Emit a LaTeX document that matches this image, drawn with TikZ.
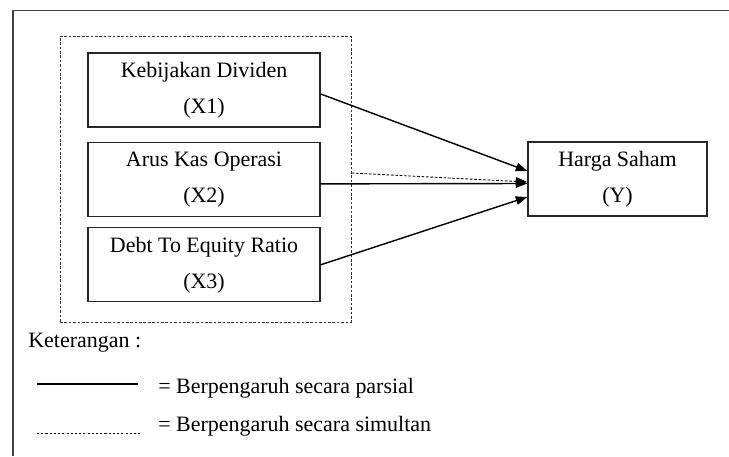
\documentclass[tikz,border=0pt]{standalone}
\usepackage{fontspec}
\setmainfont{Liberation Serif}
\usepackage{tikz}
\usetikzlibrary{arrows.meta, positioning}

\begin{document}
\begin{tikzpicture}[
    x=0.02cm, y=-0.02cm,
    font=\fontsize{12.5}{20.5}\selectfont,
    node distance=0.28cm and 1cm,
    var/.style={rectangle, draw=black!85, line width=0.8pt, minimum width=4.64cm, minimum height=1.48cm, align=center, inner sep=2pt},
    dep/.style={var, minimum width=3.58cm},
    group/.style={rectangle, draw=black!80, line width=0.5pt, dash pattern=on 1.5pt off 1pt, minimum width=5.82cm, minimum height=5.72cm, inner sep=0pt},
    arr/.style={-{Triangle[length=2.3mm, width=1.7mm]}, line width=0.8pt},
    simarr/.style={-{Triangle[length=2.3mm, width=1.7mm]}, line width=0.5pt, dash pattern=on 1.5pt off 1pt},
    legtext/.style={anchor=base west, inner sep=0pt},
]
\useasboundingbox (0,0) rectangle (729,456);
\draw[line width=1pt, black!75] (729,10.5) -- (13,10.5) -- (13,456);

\node[group] (grp) at (205.5,179) {};
\node[var] (x1) at (204,90) {Kebijakan Dividen\\(X1)};
\node[var, below=of x1] (x2) {Arus Kas Operasi\\(X2)};
\node[var, below=0.2cm of x2] (x3) {Debt To Equity Ratio\\(X3)};
\node[dep] (y) at (617.5,179) {Harga Saham\\(Y)};

\draw[arr] ([yshift=-0.08cm]x1.east) -- ([yshift=0.16cm]y.west);
\draw[arr] ([yshift=-0.09cm]x2.east) -- ([yshift=-0.09cm]y.west);
\draw[arr] (x3.east) -- ([yshift=-0.36cm]y.west);
\draw[simarr] ([yshift=0.12cm]grp.east) -- ([yshift=-0.06cm]y.west);

\node[legtext] (ket) at (28,347) {Keterangan :};
\node[legtext] (parsial) at (158,393) {= Berpengaruh secara parsial};
\node[legtext] (simultan) at (158,431) {= Berpengaruh secara simultan};
\coordinate (p1) at (37,384);
\coordinate (p2) at (138,384);
\coordinate (s1) at (37,433);
\coordinate (s2) at (142,433);
\draw[line width=0.8pt] (p1) -- (p2);
\draw[line width=0.5pt, dash pattern=on 1.2pt off 1.2pt] (s1) -- (s2);

\end{tikzpicture}
\end{document}
